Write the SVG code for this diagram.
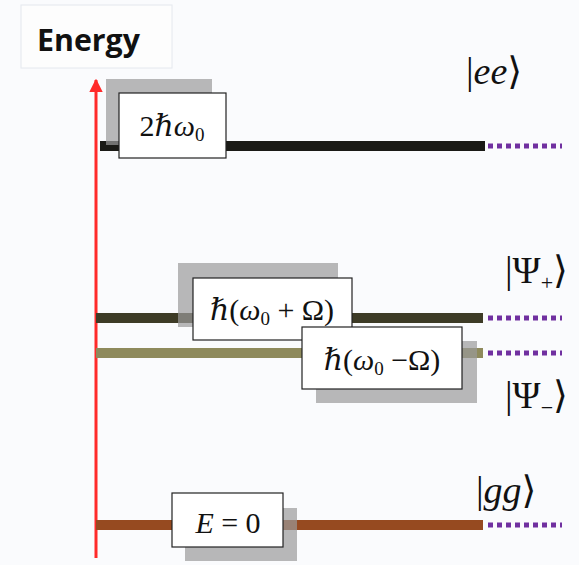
<svg xmlns="http://www.w3.org/2000/svg" width="579" height="565" viewBox="0 0 579 565">
<defs>
<style>
.lvl{stroke-width:10;fill:none}
.dots{stroke:#7030a0;stroke-width:5;stroke-dasharray:5 4;fill:none}
.sh{fill:#9a9a9a;fill-opacity:0.7}
.box{fill:#ffffff;stroke:#222;stroke-width:1.2}
.m{font-family:"Liberation Serif","DejaVu Serif",serif;font-size:30px;fill:#111}
.ket{font-family:"Liberation Serif","DejaVu Serif",serif;font-size:38px;fill:#111}
.it{font-style:italic}
</style>
<marker id="ah" viewBox="0 0 10 10" refX="9" refY="5" markerWidth="4.5" markerHeight="4.5" orient="auto" markerUnits="strokeWidth">
<path d="M0,0 L10,5 L0,10 z" fill="#ff2a2a"/>
</marker>
</defs>
<rect width="579" height="565" fill="#fafbfd"/>
<g id="title">
<rect x="21" y="5" width="151" height="63" fill="#fdfdfd" stroke="#e4e8ee" stroke-width="1"/>
<text x="37" y="51" font-family="'Open Sans','Liberation Sans',sans-serif" font-weight="bold" font-size="30" fill="#111" textLength="103" lengthAdjust="spacingAndGlyphs">Energy</text>
</g>
<g id="connectors">
<line x1="96" y1="558" x2="96" y2="80" stroke="#ff2a2a" stroke-width="3" marker-end="url(#ah)"/>
<line class="lvl" x1="100" y1="146" x2="485" y2="146" stroke="#1a1a16"/>
<line class="dots" x1="488" y1="146" x2="562" y2="146"/>
<line class="lvl" x1="96" y1="318" x2="483" y2="318" stroke="#3d3b26"/>
<line class="dots" x1="488" y1="318" x2="562" y2="318"/>
<line class="lvl" x1="96" y1="353" x2="483" y2="353" stroke="#8e8a5c"/>
<line class="dots" x1="488" y1="353" x2="562" y2="353"/>
<line class="lvl" x1="96" y1="525" x2="483" y2="525" stroke="#964a20"/>
<line class="dots" x1="488" y1="525" x2="562" y2="525"/>
</g>
<g id="level-ee">
<rect class="sh" x="106" y="79" width="106" height="66"/>
<rect class="box" x="119" y="93" width="107" height="65"/>
<text class="m" x="172" y="136" text-anchor="middle">2<tspan class="it">ℏω</tspan><tspan font-size="19" dy="5">0</tspan></text>
<text class="ket" x="466" y="84">|<tspan class="it">ee</tspan>⟩</text>
</g>
<g id="level-psi-plus">
<rect class="sh" x="178" y="263" width="160" height="64"/>
<rect class="box" x="193" y="278" width="159" height="62"/>
<text class="m" x="272" y="320" text-anchor="middle"><tspan class="it">ℏ</tspan>(<tspan class="it">ω</tspan><tspan font-size="19" dy="5">0</tspan><tspan dy="-5"> + Ω)</tspan></text>
<text class="ket" x="505" y="283">|Ψ<tspan font-size="22" dy="7">+</tspan><tspan dy="-7">⟩</tspan></text>
</g>
<g id="level-psi-minus">
<rect class="sh" x="316" y="341" width="161" height="62"/>
<rect class="box" x="302" y="327" width="160" height="62"/>
<text class="m" x="382" y="370" text-anchor="middle"><tspan class="it">ℏ</tspan>(<tspan class="it">ω</tspan><tspan font-size="19" dy="5">0</tspan><tspan dy="-5"> −Ω)</tspan></text>
<text class="ket" x="505" y="408">|Ψ<tspan font-size="22" dy="7">−</tspan><tspan dy="-7">⟩</tspan></text>
</g>
<g id="level-gg">
<rect class="sh" x="185" y="508" width="112" height="53"/>
<rect class="box" x="172" y="493" width="111" height="54"/>
<text class="m" x="228" y="533" text-anchor="middle"><tspan class="it">E</tspan> = 0</text>
<text class="ket" x="476" y="503">|<tspan class="it">gg</tspan>⟩</text>
</g>
</svg>
